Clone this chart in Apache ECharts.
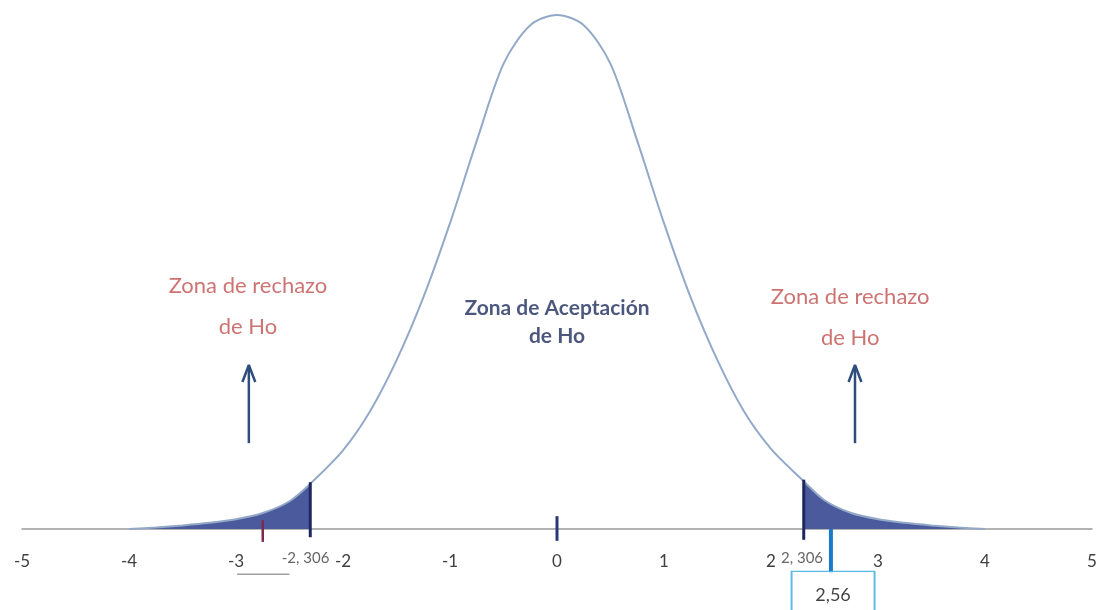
<!DOCTYPE html>
<html>
<head>
<meta charset="utf-8">
<script src="https://cdn.jsdelivr.net/npm/echarts@6/dist/echarts.min.js"></script>
<style>
  html, body { margin: 0; padding: 0; background: #fff; }
  #chart { width: 1101px; height: 610px; }
</style>
</head>
<body>
<div id="chart"></div>
<script>
// curva (altura relativa, pico = 100)
var curveX = [-4, -3.75, -3.5, -3.25, -3, -2.75, -2.5, -2.306, -2, -1.75, -1.5, -1.25, -1, -0.75, -0.5, -0.25,
  0, 0.25, 0.5, 0.75, 1, 1.25, 1.5, 1.75, 2, 2.306, 2.5, 2.75, 3, 3.25, 3.5, 3.75, 4]
var curveY = [0, 0.3, 0.7, 1.2, 1.9, 3.1, 5.4, 8.8, 15.3, 22.8, 32.8, 45, 59.5, 75.5, 90.5, 98,
  100, 98, 90.5, 75.5, 59.5, 45, 32.8, 22.8, 15.6, 9.3, 5.6, 3.1, 1.9, 1.2, 0.7, 0.3, 0]

var tickLabels = ['-5', '-4', '-3', '-2', '-1', '0', '1', '2', '3', '4', '5']
var critical = 2.306
var observed = 2.56
var observedLabel = '2,56'
var criticalLabels = ['-2, 306', '2, 306']
var zoneTexts = ['Zona de rechazo\nde Ho', 'Zona de Aceptación\nde Ho', 'Zona de rechazo\nde Ho']

var curve = []
var leftTail = []
var rightTail = []
for (var i = 0; i < curveX.length; i++) {
  curve.push([curveX[i], curveY[i]])
  if (curveX[i] <= -critical) leftTail.push([curveX[i], curveY[i]])
  if (curveX[i] >= critical) rightTail.push([curveX[i], curveY[i]])
}

function seg (pts, color, width) {
  return {
    type: 'line',
    data: pts,
    symbol: 'none',
    silent: true,
    clip: false,
    lineStyle: { color: color, width: width },
    z: 5
  }
}

function arrow (x) {
  return [
    seg([[x, 16.7], [x, 31.6]], '#2f4d7c', 2.5),
    seg([[x - 0.06, 28.6], [x, 31.9], [x + 0.06, 28.6]], '#2f4d7c', 2.5)
  ]
}

function textSeries (pts, fmt, size, lh, color, weight) {
  return {
    type: 'scatter',
    symbolSize: 0,
    silent: true,
    clip: false,
    data: pts,
    label: {
      show: true,
      position: 'inside',
      fontSize: size,
      lineHeight: lh,
      fontWeight: weight || 'normal',
      fontFamily: 'Lato',
      color: color,
      formatter: fmt
    },
    z: 6
  }
}

var chart = echarts.init(document.getElementById('chart'))

var option = {
  animation: false,
  grid: { left: 22, right: 9, top: 15, bottom: 81, containLabel: false, outerBoundsMode: 'none' },
  xAxis: {
    type: 'value',
    min: -5,
    max: 5,
    interval: 1,
    axisLine: { onZero: false, lineStyle: { color: '#9a9a9a', width: 1.5 } },
    axisTick: { show: false },
    splitLine: { show: false },
    axisLabel: {
      margin: 24,
      fontSize: 17,
      fontFamily: 'Lato',
      color: '#404040',
      formatter: function (v) { return tickLabels[v + 5] }
    }
  },
  yAxis: {
    type: 'value',
    min: 0,
    max: 100,
    show: false
  },
  series: [
    {
      type: 'line',
      data: leftTail,
      symbol: 'none',
      smooth: 0.3,
      lineStyle: { width: 0 },
      areaStyle: { color: '#4b5a9c', opacity: 1, origin: 0 },
      z: 2
    },
    {
      type: 'line',
      data: rightTail,
      symbol: 'none',
      smooth: 0.3,
      lineStyle: { width: 0 },
      areaStyle: { color: '#4b5a9c', opacity: 1, origin: 0 },
      z: 2
    },
    {
      type: 'line',
      data: curve,
      symbol: 'none',
      smooth: 0.3,
      lineStyle: { color: '#93a9c8', width: 2 },
      z: 3
    },
    seg([[-critical, 9.1], [-critical, -1.6]], '#1e285c', 3),
    seg([[critical, 9.6], [critical, -2.1]], '#1e285c', 3),
    seg([[0, 2.5], [0, -2.3]], '#2a3878', 3),
    seg([[-2.75, 1.7], [-2.75, -2.5]], '#7a2a52', 2.5),
    seg([[observed, 0], [observed, -8.6]], '#1a7bc8', 4),
    seg([[-2.99, -8.8], [-2.5, -8.8]], '#a0a0a0', 1.5)
  ].concat(arrow(-2.88), arrow(2.785), [
    // etiquetas de los valores criticos
    textSeries([[-2.35, -5.6], [2.29, -5.6]], function (p) { return criticalLabels[p.dataIndex] }, 15, 18, '#404040'),
    {
      // cuadro del valor observado
      type: 'scatter',
      symbol: 'rect',
      symbolSize: [83, 48],
      silent: true,
      clip: false,
      data: [[observed + 0.02, -12.9]],
      itemStyle: { color: '#ffffff', borderColor: '#35a9e0', borderWidth: 1.5 },
      label: {
        show: true,
        position: 'inside',
        fontSize: 18,
        fontFamily: 'Lato',
        color: '#111',
        formatter: observedLabel
      },
      z: 6
    },
    textSeries([[-2.888, 43.4], [2.74, 41.2]], function (p) { return zoneTexts[p.dataIndex * 2] }, 22, 41, '#c0504d'),
    textSeries([[0, 40.3]], zoneTexts[1], 21, 28, '#1f2d5c', 'bold')
  ])
}

chart.setOption(option)
</script>
</body>
</html>
